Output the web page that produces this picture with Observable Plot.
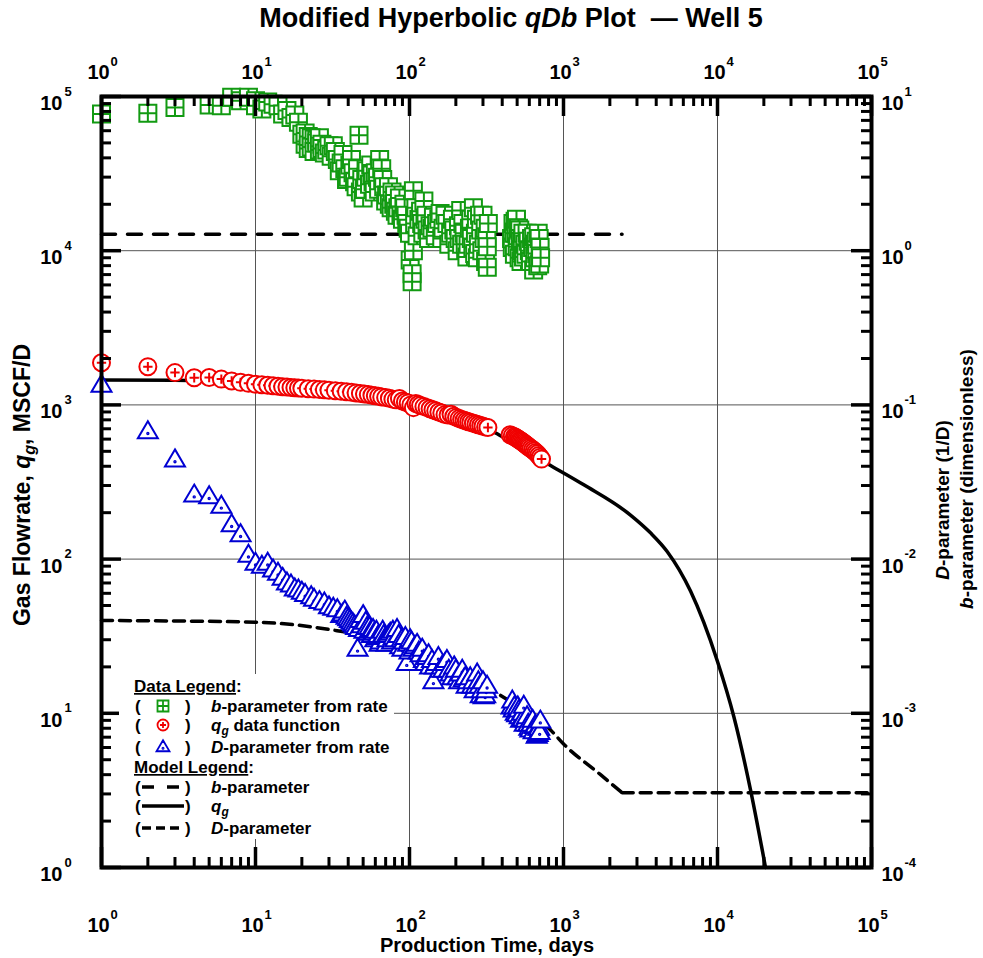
<!DOCTYPE html>
<html><head><meta charset="utf-8">
<script src="https://cdn.jsdelivr.net/npm/d3@7"></script>
<script src="https://cdn.jsdelivr.net/npm/@observablehq/plot@0.6"></script>
<style>
body{margin:0;background:#fff;}
#chart{width:983px;height:958px;}
</style></head><body><div id="chart"></div>
<script>
// ---------------- DATA ----------------
// b-parameter from rate  [time (days), b (dimensionless)]
const bData = [[1,7.7],[2,7.8],[3,8.5],[5,8.8],[6,8.7],[7,9.9],[8,9.4],[9,9.9],[10,9.4],[10,8.7],[11,8.3],[12,9.2],[13,8.9],[14,8.7],[15,7.7],[16,8.1],[17,7.3],[18,7.6],[19,6.8],[20,5.7],[21,4.9],[21,5.8],[22,4.6],[22,5.5],[23,5.4],[23,4.7],[24,5.3],[24,4.4],[25,5.2],[25,5.0],[26,4.5],[26,5.4],[27,4.9],[27,4.6],[28,4.3],[29,4.5],[30,4.8],[31,4.1],[32,4.8],[33,4.4],[34,3.9],[35,3.3],[36,3.7],[37,4.2],[38,3.4],[39,2.9],[40,3.0],[41,3.6],[42,3.9],[43,3.2],[44,2.8],[45,2.6],[46,3.4],[47,5.6],[48,2.4],[49,2.9],[50,2.2],[51,2.5],[52,3.0],[53,3.3],[55,2.7],[56,3.6],[57,3.1],[58,2.8],[59,2.4],[60,3.2],[62,3.0],[63,2.5],[64,3.9],[66,3.4],[67,2.9],[68,2.6],[70,2.1],[71,2.3],[73,2.6],[74,2.0],[76,1.9],[77,2.4],[79,2.0],[80,2.3],[81,1.8],[83,1.7],[84,1.9],[86,2.2],[88,1.7],[90,1.6],[92,2.0],[93,1.9],[95,1.7],[96,1.5],[98,1.4],[100,1.3],[101,0.87],[104,0.71],[104,0.63],[106,1.0],[106,2.45],[108,1.5],[110,1.9],[112,1.25],[115,1.6],[118,1.8],[120,1.5],[122,1.3],[124,2.1],[126,1.6],[128,1.7],[130,1.36],[133,1.2],[136,1.45],[140,1.4],[143,1.65],[147,1.25],[150,1.5],[155,1.6],[158,1.74],[162,1.2],[165,1.4],[170,1.7],[175,1.5],[180,1.1],[185,1.3],[190,1.6],[194,1.36],[198,1.2],[204,1.0],[208,1.45],[210,1.2],[215,1.82],[218,1.1],[222,1.5],[226,1.3],[230,1.1],[236,0.91],[240,1.1],[245,1.4],[250,1.6],[252,1.2],[258,1.05],[260,1.9],[265,0.96],[268,1.3],[272,1.6],[276,0.9],[280,1.1],[285,1.7],[290,1.36],[295,1.0],[300,1.7],[305,1.2],[310,1.4],[312,0.85],[318,1.2],[320,1.06],[320,0.78],[325,1.5],[460,1.2],[465,1.05],[470,1.5],[475,1.3],[480,0.95],[485,1.55],[490,1.3],[495,1.6],[500,1.06],[505,1.25],[510,1.4],[515,0.9],[520,1.36],[525,1.15],[530,0.85],[535,1.0],[540,1.2],[545,1.3],[550,0.91],[560,1.1],[570,0.95],[580,1.3],[590,1.15],[600,1.0],[610,0.85],[620,1.2],[630,1.05],[640,1.23],[640,0.75],[650,0.9],[655,1.1],[665,1.15],[670,0.96],[680,0.8],[685,1.3],[695,1.2],[700,0.82],[705,1.05],[710,0.9]];
// q_g data function  [time (days), rate (MSCF/D)]
const qData = [[1,1875],[2,1770],[3,1620],[4,1500],[5,1505],[6,1470],[7,1430],[8,1400],[9,1380],[10,1360],[11,1350],[12,1340],[13,1330],[14,1320],[15,1312],[16,1305],[17,1298],[18,1292],[19,1287],[20,1282],[22,1274],[24,1266],[26,1259],[28,1252],[30,1246],[33,1236],[36,1226],[39,1216],[42,1206],[45,1196],[48,1186],[51,1176],[54,1166],[57,1156],[60,1146],[63,1136],[66,1127],[70,1115],[74,1103],[78,1090],[82,1078],[86,1100],[90,1060],[94,1045],[98,1030],[102,1000],[106,960],[110,1020],[114,1005],[118,990],[124,975],[130,960],[136,945],[142,930],[148,915],[155,900],[162,885],[170,865],[178,860],[186,870],[194,845],[202,830],[210,815],[218,805],[226,795],[234,785],[242,778],[250,770],[260,760],[270,752],[280,744],[290,736],[300,728],[312,720],[323,714],[450,640],[465,632],[480,622],[490,615],[500,605],[510,598],[520,590],[530,583],[540,576],[550,568],[560,560],[570,552],[580,545],[590,538],[600,530],[615,522],[630,512],[645,502],[660,492],[675,482],[690,470],[705,458],[720,445]];
// D-parameter from rate  [time (days), D (1/D)]
const dData = [[1,0.134],[2,0.067],[3,0.044],[4,0.026],[5,0.0254],[6,0.022],[7,0.0167],[8,0.0144],[9,0.0106],[10,0.0094],[11,0.0090],[12,0.0094],[13,0.0085],[14,0.0081],[15,0.0075],[16,0.0070],[17,0.0068],[18,0.0064],[19,0.0063],[20,0.0061],[21,0.0059],[23,0.0057],[24,0.0055],[26,0.0053],[28,0.0052],[30,0.0049],[32,0.0048],[34,0.0047],[36,0.0043],[37,0.0044],[38,0.0046],[39,0.0042],[40,0.0041],[41,0.0040],[42,0.0039],[43,0.0038],[44,0.0037],[45,0.0036],[46,0.0026],[47,0.0035],[48,0.0040],[49,0.0037],[50,0.0043],[51,0.0034],[52,0.0039],[53,0.0036],[54,0.0033],[55,0.0036],[56,0.0034],[57,0.0032],[58,0.0035],[59,0.0033],[60,0.0030],[61,0.0034],[62,0.0031],[63,0.0032],[64,0.0028],[65,0.0029],[66,0.0031],[67,0.0034],[68,0.0032],[70,0.0031],[71,0.0028],[72,0.0030],[73,0.0032],[75,0.0033],[77,0.0029],[78,0.0034],[79,0.0031],[81,0.0030],[83,0.0035],[85,0.0032],[87,0.0027],[89,0.0030],[90,0.0026],[92,0.0029],[94,0.0031],[96,0.0021],[98,0.0028],[100,0.0025],[101,0.0030],[103,0.0029],[106,0.0026],[109,0.0027],[112,0.0028],[115,0.0025],[118,0.0024],[121,0.0026],[124,0.0022],[127,0.0021],[130,0.0023],[133,0.0024],[136,0.0020],[140,0.0022],[143,0.0016],[146,0.0020],[150,0.0021],[154,0.0023],[158,0.0019],[162,0.0020],[166,0.0019],[170,0.0021],[175,0.0022],[180,0.0019],[185,0.0018],[190,0.0017],[195,0.0020],[200,0.0019],[205,0.0017],[210,0.0016],[215,0.0018],[220,0.0019],[225,0.00165],[230,0.0017],[235,0.0015],[240,0.0016],[248,0.0017],[255,0.0015],[260,0.0016],[265,0.0014],[270,0.0015],[275,0.0018],[280,0.0016],[285,0.0015],[290,0.0013],[295,0.0014],[300,0.0016],[303,0.00128],[310,0.0013],[315,0.0014],[319,0.0015],[460,0.0011],[465,0.0012],[475,0.00105],[480,0.0011],[490,0.0010],[500,0.00098],[505,0.0011],[515,0.00105],[520,0.00095],[530,0.0009],[540,0.0010],[545,0.00092],[552,0.00111],[560,0.00085],[570,0.0009],[580,0.00095],[590,0.00085],[600,0.0008],[610,0.00078],[620,0.00085],[630,0.0009],[640,0.00076],[650,0.00082],[660,0.00083],[670,0.00071],[680,0.00073],[685,0.0008],[695,0.0008],[700,0.00075],[707,0.00089]];
// Model curves
const bModel = [[1,1.28],[2400,1.28]];
const qModel = [[1,1450],[3,1445],[10,1390],[30,1270],[100,1030],[200,860],[351,670],[418,607],[824,405],[1355,303],[2723,193],[3670,148],[4710,112],[6680,62],[9950,22],[12770,9.5],[16370,3.2],[20500,1.0]];
const dModelHyp = [[1,0.0040],[10,0.0039],[31,0.00348],[100,0.0027],[200,0.0020],[371,0.00135],[824,0.00078],[1005,0.00063],[1740,0.00040],[2405,0.000305]];
const dModelExp = [[2405,0.000305],[100000,0.000305]];
// Axes
const xDecades = [1,10,100,1000,10000,100000];
const xExp = ["0","1","2","3","4","5"];
const yDecades = [1,10,100,1000,10000,100000];
const yExp = ["0","1","2","3","4","5"];
const rDecades = [0.0001,0.001,0.01,0.1,1,10];
const rExp = ["-4","-3","-2","-1","0","1"];
const minorMult = [2,3,4,5,6,7,8,9];
const RIGHT = 1e4; // right axis value * RIGHT = left axis value

// ---------------- STYLE ----------------
const FONT = "'Liberation Sans', Arial, sans-serif";
const GREEN = "#129a12", RED = "#f00000", BLUE = "#0000d2";
const W = 983, H = 958, mL = 101, mR = 112, mT = 96, mB = 91;
const fw = W - mL - mR, fh = H - mT - mB;

const symSquarePlus = {draw(c, s){const r=Math.sqrt(s/Math.PI);c.moveTo(-r,-r);c.lineTo(r,-r);c.lineTo(r,r);c.lineTo(-r,r);c.closePath();c.moveTo(-r,0);c.lineTo(r,0);c.moveTo(0,-r);c.lineTo(0,r);}};
const symCirclePlus = {draw(c, s){const r=Math.sqrt(s/Math.PI);c.moveTo(r,0);c.arc(0,0,r,0,2*Math.PI);c.closePath();const p=r*0.55;c.moveTo(-p,0);c.lineTo(p,0);c.moveTo(0,-p);c.lineTo(0,p);}};
const symTriDot = {draw(c, s){const r=Math.sqrt(s/Math.PI);c.moveTo(0,-1.05*r);c.lineTo(r,0.65*r);c.lineTo(-r,0.65*r);c.closePath();const d=Math.max(0.6,r*0.07);c.moveTo(d,0.18*r);c.arc(0,0.18*r,d,0,2*Math.PI);c.closePath();}};

const xMinor = xDecades.slice(0,-1).flatMap(d => minorMult.map(k => d*k));
const yMinor = yDecades.slice(0,-1).flatMap(d => minorMult.map(k => d*k));
const MAJ = 20, MIN = 10;
const tickStyle = {stroke: "black", strokeWidth: 3};
const byTime = arr => [...arr].sort((a, b) => a[0] - b[0]);

const txt = {fontFamily: FONT, fontWeight: "bold", fill: "black"};
const plot = Plot.plot({
  width: W, height: H, marginLeft: mL, marginRight: mR, marginTop: mT, marginBottom: mB,
  style: {fontFamily: FONT, background: "white"},
  x: {type: "log", domain: [1, 1e5], axis: null},
  y: {type: "log", domain: [1, 1e5], axis: null},
  marks: [
    Plot.ruleX(xDecades.slice(1,-1), {x: d => d, stroke: "#555", strokeWidth: 1}),
    Plot.ruleY(yDecades.slice(1,-1), {y: d => d, stroke: "#555", strokeWidth: 1}),
    Plot.line(bModel, {x: d => d[0], y: d => d[1]*RIGHT, stroke: "black", strokeWidth: 3.5, strokeDasharray: "14,12"}),
    Plot.line(dModelHyp, {x: d => d[0], y: d => d[1]*RIGHT, stroke: "black", strokeWidth: 3.5, strokeDasharray: "11,7", curve: "monotone-x"}),
    Plot.line(dModelExp, {x: d => d[0], y: d => d[1]*RIGHT, stroke: "black", strokeWidth: 3.5, strokeDasharray: "11,7"}),
    Plot.line(qModel, {x: d => d[0], y: d => d[1], stroke: "black", strokeWidth: 3.5, curve: "monotone-x"}),
    Plot.dot(byTime(bData), {x: d => d[0], y: d => d[1]*RIGHT, symbol: symSquarePlus, r: 8.5, stroke: GREEN, strokeWidth: 2, fill: "white"}),
    Plot.dot(byTime(qData), {x: d => d[0], y: d => d[1], symbol: symCirclePlus, r: 8.5, stroke: RED, strokeWidth: 2, fill: "white"}),
    Plot.dot(byTime(dData), {x: d => d[0], y: d => d[1]*RIGHT, symbol: symTriDot, r: 10, stroke: BLUE, strokeWidth: 2, fill: "white"}),
    Plot.frame({stroke: "black", strokeWidth: 4}),
    // ticks (inward) bottom / top
    Plot.ruleX(xMinor, {x: d => d, insetTop: fh - MIN, ...tickStyle}),
    Plot.ruleX(xDecades, {x: d => d, insetTop: fh - MAJ, ...tickStyle, strokeWidth: 3.5}),
    Plot.ruleX(xMinor, {x: d => d, insetBottom: fh - MIN, ...tickStyle}),
    Plot.ruleX(xDecades, {x: d => d, insetBottom: fh - MAJ, ...tickStyle, strokeWidth: 3.5}),
    // left / right
    Plot.ruleY(yMinor, {y: d => d, insetRight: fw - MIN, ...tickStyle}),
    Plot.ruleY(yDecades, {y: d => d, insetRight: fw - MAJ, ...tickStyle, strokeWidth: 3.5}),
    Plot.ruleY(yMinor, {y: d => d, insetLeft: fw - MIN, ...tickStyle}),
    Plot.ruleY(yDecades, {y: d => d, insetLeft: fw - MAJ, ...tickStyle, strokeWidth: 3.5}),
    // tick labels
    Plot.text(xDecades, {x: d => d, frameAnchor: "bottom", dy: 58, dx: -3, text: () => "10", fontSize: 20, textAnchor: "middle", lineAnchor: "middle", ...txt}),
    Plot.text(xDecades, {x: d => d, frameAnchor: "bottom", dy: 47, dx: 9, text: (d, i) => xExp[i], fontSize: 13, textAnchor: "start", lineAnchor: "middle", ...txt}),
    Plot.text(xDecades, {x: d => d, frameAnchor: "top", dy: -24, dx: -3, text: () => "10", fontSize: 20, textAnchor: "middle", lineAnchor: "middle", ...txt}),
    Plot.text(xDecades, {x: d => d, frameAnchor: "top", dy: -35, dx: 9, text: (d, i) => xExp[i], fontSize: 13, textAnchor: "start", lineAnchor: "middle", ...txt}),
    Plot.text(yDecades, {y: d => d, frameAnchor: "left", dx: -39, dy: 7, text: () => "10", fontSize: 20, textAnchor: "end", lineAnchor: "middle", ...txt}),
    Plot.text(yDecades, {y: d => d, frameAnchor: "left", dx: -37, dy: -5, text: (d, i) => yExp[i], fontSize: 13, textAnchor: "start", lineAnchor: "middle", ...txt}),
    Plot.text(rDecades, {y: d => d*RIGHT, frameAnchor: "right", dx: 10, dy: 7, text: () => "10", fontSize: 20, textAnchor: "start", lineAnchor: "middle", ...txt}),
    Plot.text(rDecades, {y: d => d*RIGHT, frameAnchor: "right", dx: 33, dy: -5, text: (d, i) => rExp[i], fontSize: 13, textAnchor: "start", lineAnchor: "middle", ...txt})
  ]
});
document.getElementById("chart").appendChild(plot);

// ---------------- TEXT DECORATION (titles, legend) ----------------
const svg = d3.select(plot);
function rich(g, x, y, parts, size, extra = {}) {
  const t = g.append("text").attr("x", x).attr("y", y).attr("font-family", FONT)
    .attr("font-weight", "bold").attr("font-size", size).attr("fill", "black")
    .attr("text-anchor", "start").style("white-space", "pre");
  for (const [k, v] of Object.entries(extra)) t.attr(k, v);
  let shifted = 0;
  for (const p of parts) {
    const s = t.append("tspan").text(p.t);
    if (p.i) s.attr("font-style", "italic");
    if (p.u) s.attr("text-decoration", "underline");
    if (p.sub) { s.attr("font-size", size*0.7).attr("dy", size*0.22); shifted = size*0.22; }
    else if (shifted) { s.attr("dy", -shifted); shifted = 0; }
  }
  return t;
}
// title
rich(svg, 511, 27, [{t: "Modified Hyperbolic "}, {t: "qDb", i: 1}, {t: " Plot  \u2014 Well 5"}], 27, {"text-anchor": "middle"});
// x label
rich(svg, 487, 952, [{t: "Production Time, days"}], 20, {"text-anchor": "middle"});
// left label
rich(svg, 0, 0, [{t: "Gas Flowrate, "}, {t: "q", i: 1}, {t: "g", i: 1, sub: 1}, {t: ", MSCF/D"}], 23,
  {"text-anchor": "middle", transform: "translate(30,485) rotate(-90)"});
// right labels
rich(svg, 0, 0, [{t: "D", i: 1}, {t: "-parameter (1/D)"}], 19, {"text-anchor": "middle", transform: "translate(949,500) rotate(-90)"});
rich(svg, 0, 0, [{t: "b", i: 1}, {t: "-parameter (dimensionless)"}], 19, {"text-anchor": "middle", transform: "translate(973,479) rotate(-90)"});

// legend
const lg = svg.append("g");
lg.append("rect").attr("x", 119).attr("y", 674).attr("width", 275).attr("height", 165).attr("fill", "white");
const LS = 17;
rich(lg, 134, 692, [{t: "Data Legend", u: 1}, {t: ":"}], LS);
rich(lg, 134, 773, [{t: "Model Legend", u: 1}, {t: ":"}], LS);
const sym = (s, r) => d3.symbol(s, Math.PI*r*r)();
const dataRows = [
  {y: 712, s: symSquarePlus, r: 5.5, c: GREEN, parts: [{t: "b", i: 1}, {t: "-parameter from rate"}]},
  {y: 731, s: symCirclePlus, r: 5.5, c: RED, parts: [{t: "q", i: 1}, {t: "g", i: 1, sub: 1}, {t: " data function"}]},
  {y: 753, s: symTriDot, r: 6.5, c: BLUE, parts: [{t: "D", i: 1}, {t: "-parameter from rate"}]}
];
const modelRows = [
  {y: 793, dash: "12,13", parts: [{t: "b", i: 1}, {t: "-parameter"}]},
  {y: 812, dash: null, parts: [{t: "q", i: 1}, {t: "g", i: 1, sub: 1}]},
  {y: 834, dash: "9,5", parts: [{t: "D", i: 1}, {t: "-parameter"}]}
];
for (const row of [...dataRows, ...modelRows]) {
  rich(lg, 135, row.y, [{t: "("}], LS);
  rich(lg, 185, row.y, [{t: ")"}], LS);
  rich(lg, 211, row.y, row.parts, LS);
  if (row.s) {
    lg.append("path").attr("d", sym(row.s, row.r)).attr("transform", `translate(163,${row.y - 6})`)
      .attr("fill", "white").attr("stroke", row.c).attr("stroke-width", 1.8);
  } else {
    const l = lg.append("line").attr("x1", 142).attr("x2", 184).attr("y1", row.y - 6).attr("y2", row.y - 6)
      .attr("stroke", "black").attr("stroke-width", 3.5);
    if (row.dash) l.attr("stroke-dasharray", row.dash);
  }
}
</script></body></html>
